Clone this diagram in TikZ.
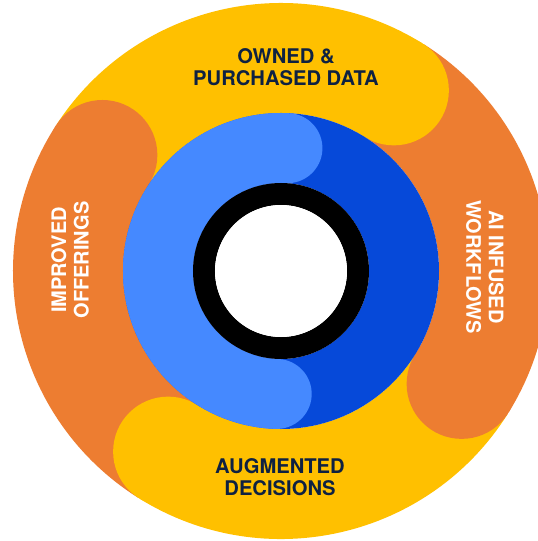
\documentclass[tikz,border=0pt]{standalone}
\usepackage{fontspec}
\setmainfont{TeX Gyre Heros}
\definecolor{bandyellow}{HTML}{FFC000}
\definecolor{bandorange}{HTML}{ED7D31}
\definecolor{lightblue}{HTML}{4589FF}
\definecolor{darkblue}{HTML}{0649D9}
\definecolor{navytext}{HTML}{0E2142}

\begin{document}
\begin{tikzpicture}[x=1pt,y=1pt,
  band/.style={line width=110pt},
  innerband/.style={line width=70pt},
  ringtext/.style={font=\fontsize{20.2}{22.5}\selectfont\bfseries, align=center, inner sep=0pt},
  sidetext/.style={font=\fontsize{20}{22.5}\selectfont\bfseries, align=center, inner sep=0pt, white}]

\fill[white] (-281,-270) rectangle (257,271);
\useasboundingbox (-281,-270) rectangle (257,271);
\clip (-281,-270) rectangle (257,271);

% outer bands, each one from the end of the one before
\foreach \a/\b/\c in {147/58/bandyellow, 58/-32/bandorange, -32/-122/bandyellow, -122/-213/bandorange}
{
\draw[band,\c] (\a:213) arc[start angle=\a, end angle=\b, radius=213];
}

% round ends lie on the next band
\foreach \a/\c in {58/bandyellow, -32/bandorange, -122/bandyellow, 147/bandorange}
{
\fill[\c] (\a:213) circle (55);
}

% blue ring
\draw[innerband,darkblue] (0,0) circle (123);
\draw[innerband,lightblue,line cap=round] (87:123) arc[start angle=87, end angle=268, radius=123];

% black ring and white hole
\draw[line width=22pt,black] (0,0) circle (77);
\fill[white] (0,0) circle (66);

\node (owned) at (5,204)[ringtext,navytext]{OWNED \&\\PURCHASED DATA};
\node (decisions) at (-1,-206)[ringtext,navytext]{AUGMENTED\\DECISIONS};
\node (offerings) at (-211,11)[sidetext,rotate=90]{IMPROVED\\OFFERINGS};
\node (workflows) at (204,4)[sidetext,rotate=-90]{AI INFUSED\\WORKFLOWS};

\end{tikzpicture}
\end{document}
